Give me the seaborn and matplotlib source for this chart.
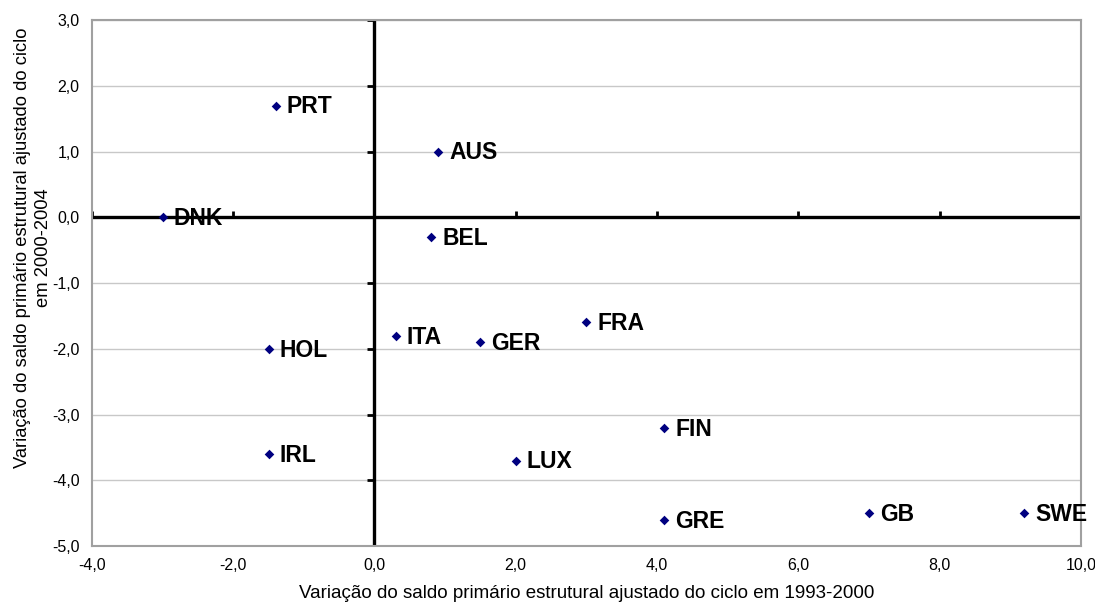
import numpy as np
import pandas as pd
import matplotlib
matplotlib.use("Agg")
import matplotlib.pyplot as plt
import seaborn as sns

# dados
paises = ['PRT', 'AUS', 'DNK', 'BEL', 'ITA', 'GER', 'FRA', 'HOL', 'IRL', 'FIN', 'LUX', 'GRE', 'GB', 'SWE']
var_1993_2000 = [-1.4, 0.9, -3.0, 0.8, 0.3, 1.5, 3.0, -1.5, -1.5, 4.1, 2.0, 4.1, 7.0, 9.2]
var_2000_2004 = [1.7, 1.0, 0.0, -0.3, -1.8, -1.9, -1.6, -2.0, -3.6, -3.2, -3.7, -4.6, -4.5, -4.5]

x_ticks = [-4, -2, 0, 2, 4, 6, 8, 10]
y_ticks = [-5, -4, -3, -2, -1, 0, 1, 2, 3]

df = pd.DataFrame({'pais': paises, 'x': var_1993_2000, 'y': var_2000_2004})

sns.set_style('white')
plt.rcParams['font.family'] = ['Liberation Sans', 'DejaVu Sans']
plt.rcParams['text.color'] = 'black'
plt.rcParams['axes.labelcolor'] = 'black'
plt.rcParams['xtick.color'] = 'black'
plt.rcParams['ytick.color'] = 'black'

fig = plt.figure(figsize=(10.95, 6.08), dpi=100)
ax = fig.add_axes([0.084, 0.102, 0.903, 0.865])

# grelha horizontal
for t in y_ticks:
    ax.axhline(t, color='#c8c8c8', lw=1, zorder=0)

# eixos no zero
ax.axhline(0, color='black', lw=2.4, zorder=1)
ax.axvline(0, color='black', lw=2.4, zorder=1)
for t in x_ticks:
    ax.plot([t, t], [0, 0.09], color='black', lw=2, zorder=1, solid_capstyle='butt')
for t in y_ticks:
    ax.plot([-0.1, 0], [t, t], color='black', lw=2, zorder=1, solid_capstyle='butt')

sns.scatterplot(data=df, x='x', y='y', marker='D', s=24, color='#000080',
                edgecolor='#000080', linewidth=0, ax=ax, zorder=3)

for _, r in df.iterrows():
    ax.annotate(r['pais'], (r['x'], r['y']), xytext=(8, -1), textcoords='offset points',
                fontsize=16.5, fontweight='bold', va='center', ha='left', color='black', zorder=4)

ax.set_xlim(-4, 10)
ax.set_ylim(-5, 3)
ax.set_xticks(x_ticks)
ax.set_yticks(y_ticks)
ax.set_xticklabels([f'{t:.1f}'.replace('.', ',') for t in x_ticks], fontsize=11.5)
ax.set_yticklabels([f'{t:.1f}'.replace('.', ',') for t in y_ticks], fontsize=11.5)
ax.tick_params(length=0, pad=9)

for s in ax.spines.values():
    s.set_color('#a0a0a0')
    s.set_linewidth(1.5)

ax.set_xlabel('Variação do saldo primário estrutural ajustado do ciclo em 1993-2000', fontsize=13.5, labelpad=8)
ax.set_ylabel('Variação do saldo primário estrutural ajustado do ciclo\nem 2000-2004', fontsize=13.2, linespacing=1.35)
ax.yaxis.set_label_coords(-0.04, 0.567)

fig.savefig('out.png', dpi=100)
